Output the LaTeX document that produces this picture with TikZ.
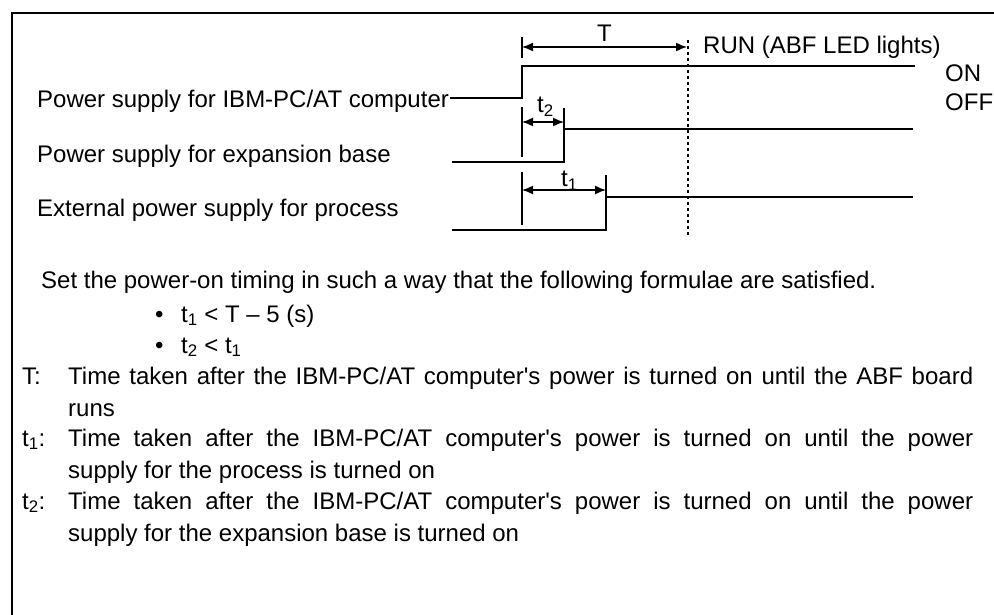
\documentclass[tikz,border=0pt]{standalone}
\usepackage{fontspec}
\setmainfont{Liberation Sans}[Ligatures=TeXOff]
\usetikzlibrary{arrows.meta}
\begin{document}
\begin{tikzpicture}[x=1pt,y=-1pt,
  sig/.style={line width=2pt},
  tickline/.style={line width=1.5pt},
  dimarrow/.style={line width=1.5pt, {Latex[length=11pt,width=9pt]}-{Latex[length=11pt,width=9pt]}},
  lbl/.style={anchor=base west, inner sep=0pt, font=\fontsize{24}{28}\selectfont},
  runline/.style={dash pattern=on 3pt off 3pt, line width=1.8pt},
  frameline/.style={line width=2.5pt}]
\useasboundingbox (0,0) rectangle (994,615);
% frame
\coordinate (f1) at (12,615);
\coordinate (f2) at (12,13);
\coordinate (f3) at (994,13);
\draw[frameline] (f1) -- (f2) -- (f3);

% signal labels
\node[lbl] (l1) at (37,108) {Power supply for IBM-PC/AT computer};
\node[lbl] (l2) at (37,163) {Power supply for expansion base};
\node[lbl] (l3) at (37,217) {External power supply for process};

% signal 1
\coordinate (s1a) at (450,98);
\coordinate (s1b) at (522,98);
\coordinate (s1c) at (522,66);
\coordinate (s1d) at (915,66);
\draw[sig] (s1a) -- (s1b) -- (s1c) -- (s1d);
% signal 2
\coordinate (s2a) at (452,162);
\coordinate (s2b) at (564,162);
\coordinate (s2c) at (564,129);
\coordinate (s2d) at (913,129);
\draw[sig] (s2a) -- (s2b) -- (s2c) -- (s2d);
% signal 3
\coordinate (s3a) at (452,230);
\coordinate (s3b) at (606,230);
\coordinate (s3c) at (606,197);
\coordinate (s3d) at (913,197);
\draw[sig] (s3a) -- (s3b) -- (s3c) -- (s3d);

% ON / OFF
\node[lbl] (on) at (945,82) {ON};
\node[lbl] (off) at (945,111) {OFF};

% RUN dotted line
\coordinate (r1) at (688,40);
\coordinate (r2) at (688,236);
\draw[runline] (r1) -- (r2);

% T dimension
\coordinate (Ta) at (522,37);
\coordinate (Tb) at (522,58);
\draw[tickline] (Ta) -- (Tb);
\coordinate (Tl) at (522,47);
\coordinate (Tr) at (687,47);
\draw[dimarrow] (Tl) -- (Tr);
\node[lbl] (Tlab) at (597,42) {T};
\node[lbl] (run) at (703,54) {RUN (ABF LED lights)};

% t2 dimension
\coordinate (t2a) at (522,107);
\coordinate (t2b) at (522,157);
\draw[tickline] (t2a) -- (t2b);
\coordinate (t2c) at (564,108);
\draw[tickline] (t2c) -- (s2c);
\coordinate (t2l) at (522,122);
\coordinate (t2r) at (564,122);
\draw[dimarrow] (t2l) -- (t2r);
\node[lbl] (t2lab) at (537,113) {t\textsubscript{2}};

% t1 dimension
\coordinate (t1a) at (522,172);
\coordinate (t1b) at (522,225);
\draw[tickline] (t1a) -- (t1b);
\coordinate (t1c) at (606,175);
\draw[tickline] (t1c) -- (s3c);
\coordinate (t1l) at (522,190);
\coordinate (t1r) at (606,190);
\draw[dimarrow] (t1l) -- (t1r);
\node[lbl] (t1lab) at (561,187) {t\textsubscript{1}};

% explanatory text
\node[lbl] (set) at (41,288) {Set the power-on timing in such a way that the following formulae are satisfied.};
\node[lbl] (b1) at (155,322) {•};
\node[lbl] (f1t) at (181,322) {t\textsubscript{1} < T – 5 (s)};
\node[lbl] (b2) at (155,353) {•};
\node[lbl] (f2t) at (181,353) {t\textsubscript{2} < t\textsubscript{1}};

\node[lbl] (dT) at (22,384) {T:};
\node[lbl] (dT1) at (68,384) {\makebox[905pt][s]{Time taken after the IBM-PC/AT computer's power is turned on until the ABF board}};
\node[lbl] (dT2) at (68,416) {runs};

\node[lbl] (d1) at (22,446) {t\textsubscript{1}:};
\node[lbl] (d11) at (68,446) {\makebox[905pt][s]{Time taken after the IBM-PC/AT computer's power is turned on until the power}};
\node[lbl] (d12) at (68,478) {supply for the process is turned on};

\node[lbl] (d2) at (22,509) {t\textsubscript{2}:};
\node[lbl] (d21) at (68,509) {\makebox[905pt][s]{Time taken after the IBM-PC/AT computer's power is turned on until the power}};
\node[lbl] (d22) at (68,541) {supply for the expansion base is turned on};
\end{tikzpicture}
\end{document}
